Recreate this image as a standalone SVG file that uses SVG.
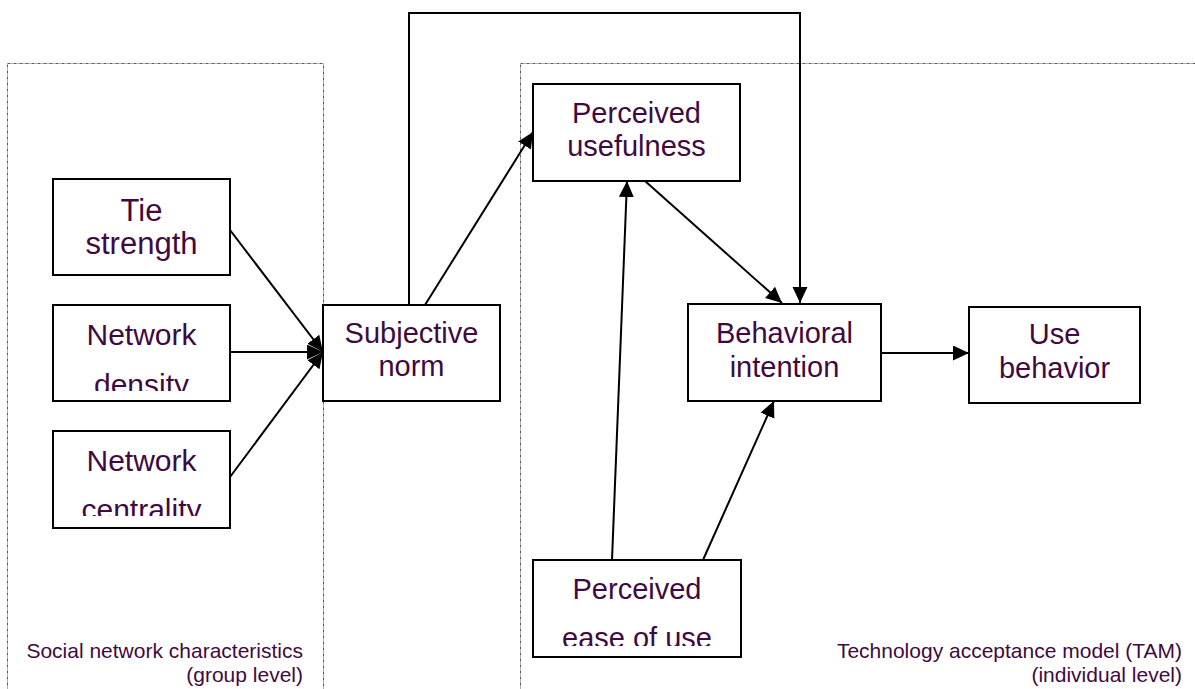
<svg xmlns="http://www.w3.org/2000/svg" width="1195" height="689" viewBox="0 0 1195 689">
<style>
.box{fill:#fff;stroke:#000;stroke-width:2}
.t{font-family:"Liberation Sans",Arial,sans-serif;font-size:29px;fill:#3f0a3f;text-anchor:middle}
.lbl{font-family:"Liberation Sans",Arial,sans-serif;font-size:21px;fill:#3f0a3f;text-anchor:end}
.grp{fill:none;stroke:#5a5a5a;stroke-width:1;stroke-dasharray:3 1 1 1}
.c{fill:none;stroke:#000;stroke-width:2}
.a{marker-end:url(#ah)}
</style>
<defs>
<marker id="ah" markerUnits="userSpaceOnUse" markerWidth="17" markerHeight="16" refX="16" refY="7.5" orient="auto">
<path d="M0,0 L16,7.5 L0,15 z" fill="#000"/>
</marker>
<clipPath id="clipND"><rect x="54" y="306" width="175" height="85"/></clipPath>
<clipPath id="clipNC"><rect x="54" y="432" width="175" height="84"/></clipPath>
<clipPath id="clipPE"><rect x="534" y="561" width="206" height="85"/></clipPath>
</defs>
<rect width="1195" height="689" fill="#fff"/>
<g id="groups">
<rect class="grp" x="7.5" y="63.5" width="316" height="640"/>
<rect class="grp" x="520.5" y="63.5" width="700" height="640"/>
<text class="lbl" x="303" y="658">Social network characteristics</text>
<text class="lbl" x="303" y="682">(group level)</text>
<text class="lbl" x="1182" y="658">Technology acceptance model (TAM)</text>
<text class="lbl" x="1182" y="682">(individual level)</text>
</g>
<g id="connectors">
<path class="c" d="M409,305 V13 H800 V303" marker-end="url(#ah)"/>
<line class="c a" x1="230" y1="230" x2="323" y2="352"/>
<line class="c a" x1="230" y1="352" x2="323" y2="352"/>
<line class="c a" x1="230" y1="477" x2="323" y2="352"/>
<line class="c a" x1="425" y1="305" x2="533" y2="132"/>
<line class="c a" x1="645" y1="181" x2="782" y2="303"/>
<line class="c a" x1="612" y1="560" x2="627" y2="181"/>
<line class="c a" x1="703" y1="560" x2="774" y2="401"/>
<line class="c a" x1="881" y1="353" x2="969" y2="353"/>
</g>
<g id="tie-strength">
<rect class="box" x="53" y="179" width="177" height="96"/>
<text class="t" style="font-size:31px" x="141.5" y="221">Tie</text>
<text class="t" style="font-size:31px" x="141.5" y="254">strength</text>
</g>
<g id="network-density">
<rect class="box" x="53" y="305" width="177" height="96"/>
<g clip-path="url(#clipND)">
<text class="t" style="font-size:30px" x="141.5" y="345">Network</text>
<text class="t" style="font-size:30px" x="141.5" y="394.5">density</text>
</g>
</g>
<g id="network-centrality">
<rect class="box" x="53" y="431" width="177" height="97"/>
<g clip-path="url(#clipNC)">
<text class="t" style="font-size:30px" x="141.5" y="471">Network</text>
<text class="t" style="font-size:30px" x="141.5" y="520">centrality</text>
</g>
</g>
<g id="subjective-norm">
<rect class="box" x="323" y="305" width="177" height="96"/>
<text class="t" x="411.5" y="343">Subjective</text>
<text class="t" x="411.5" y="376">norm</text>
</g>
<g id="perceived-usefulness">
<rect class="box" x="533" y="84" width="207" height="97"/>
<text class="t" x="636.5" y="123">Perceived</text>
<text class="t" x="636.5" y="156">usefulness</text>
</g>
<g id="behavioral-intention">
<rect class="box" x="688" y="304" width="193" height="97"/>
<text class="t" x="784.5" y="343">Behavioral</text>
<text class="t" x="784.5" y="377">intention</text>
</g>
<g id="use-behavior">
<rect class="box" x="969" y="307" width="171" height="96"/>
<text class="t" x="1054.5" y="344">Use</text>
<text class="t" x="1054.5" y="378">behavior</text>
</g>
<g id="perceived-ease-of-use">
<rect class="box" x="533" y="560" width="208" height="97"/>
<g clip-path="url(#clipPE)">
<text class="t" x="637" y="598.5">Perceived</text>
<text class="t" x="637" y="648">ease of use</text>
</g>
</g>
</svg>
